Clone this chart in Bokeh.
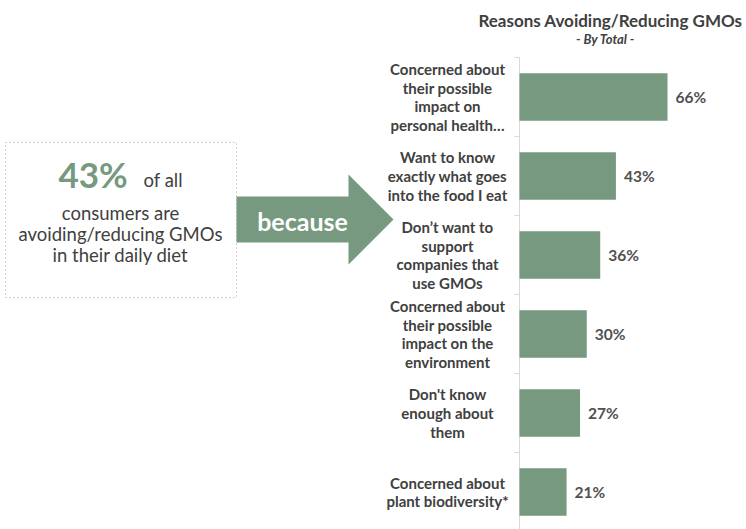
from bokeh.plotting import figure
from bokeh.models import Range1d, ColumnDataSource
from bokeh.core.properties import value
from bokeh.embed import file_html
from bokeh.resources import INLINE

categories = [
    "Concerned about\ntheir possible\nimpact on\npersonal health…",
    "Want to know\nexactly what goes\ninto the food I eat",
    "Don’t want to\nsupport\ncompanies that\nuse GMOs",
    "Concerned about\ntheir possible\nimpact on the\nenvironment",
    "Don't know\nenough about\nthem",
    "Concerned about\nplant biodiversity*",
]
values = [66, 43, 36, 30, 27, 21]
value_labels = ["66%", "43%", "36%", "30%", "27%", "21%"]

title = "Reasons Avoiding/Reducing GMOs"
subtitle = "- By Total -"
headline_pct = "43%"
headline_rest = "of all"
body_lines = ["consumers are", "avoiding/reducing GMOs", "in their daily diet"]
arrow_text = "because"

GREEN = "#76997f"
DARK = "#404040"
FONT = "Lato"

W, H = 746, 529
AXIS_PX = 519
PX_PER_PCT = 148 / 66.0
BAND = 79.0
TOP_PX = 57.0

x_start = -AXIS_PX / PX_PER_PCT
x_end = (W - AXIS_PX) / PX_PER_PCT
y_top = -0.5 - TOP_PX / BAND
y_bottom = y_top + H / BAND

p = figure(width=W, height=H, output_backend="svg", toolbar_location=None,
           x_range=Range1d(x_start, x_end), y_range=Range1d(y_bottom, y_top),
           min_border=0, min_border_left=0, min_border_right=0,
           min_border_top=0, min_border_bottom=0)
p.axis.visible = False
p.grid.visible = False
p.outline_line_color = None
p.background_fill_color = "white"
p.border_fill_color = "white"

p.extra_x_ranges = {"px": Range1d(0, W)}
p.extra_y_ranges = {"py": Range1d(H, 0)}

n = len(categories)
idx = list(range(n))
src = ColumnDataSource(dict(y=idx, v=values, lab=value_labels, cat=categories,
                            cx=[-32.1] * n))

# axis line and boundary ticks
p.segment(x0=[0], y0=[-0.5], x1=[0], y1=[n - 0.5], line_color="#d9d9d9", line_width=1)
bounds = [i - 0.5 for i in range(n + 1)]
p.segment(x0=[-2.3] * len(bounds), y0=bounds, x1=[0] * len(bounds), y1=bounds,
          line_color="#d9d9d9", line_width=1)

# bars
p.hbar(y="y", left=0, right="v", height=0.6, source=src, fill_color=GREEN,
       line_color=None)

# value labels
p.text(x="v", y="y", text="lab", source=src, x_offset=8,
       text_font=value(FONT), text_font_style="bold", text_font_size="15.5px",
       text_color="#505050", text_align="left", text_baseline="middle")

# category labels
p.text(x="cx", y="y", text="cat", source=src,
       text_font=value(FONT), text_font_style="bold", text_font_size="15px",
       text_color=DARK, text_align="center", text_baseline="middle",
       text_line_height=1.03)

# title
p.text(x=[610], y=[20], text=[title], x_range_name="px", y_range_name="py",
       text_font=value(FONT), text_font_style="bold", text_font_size="17px",
       text_color=DARK, text_align="center", text_baseline="middle")
p.text(x=[605], y=[38], text=[subtitle], x_range_name="px", y_range_name="py",
       text_font=value(FONT), text_font_style="bold italic", text_font_size="13px",
       text_color=DARK, text_align="center", text_baseline="middle")

# left dotted box
p.quad(left=[5], right=[236], top=[142], bottom=[297], x_range_name="px",
       y_range_name="py", fill_color=None, line_color="#a0a0a0",
       line_dash="1 3", line_width=1)

p.text(x=[58], y=[173], text=[headline_pct], x_range_name="px", y_range_name="py",
       text_font=value(FONT), text_font_style="bold", text_font_size="35px",
       text_color=GREEN, text_align="left", text_baseline="middle")
p.text(x=[143], y=[179], text=[headline_rest], x_range_name="px", y_range_name="py",
       text_font=value(FONT), text_font_size="18.5px",
       text_color=DARK, text_align="left", text_baseline="middle")
p.text(x=[120] * 3, y=[212, 233, 254], text=body_lines, x_range_name="px",
       y_range_name="py", text_font=value(FONT), text_font_size="18.5px",
       text_color=DARK, text_align="center", text_baseline="middle")

# arrow
p.patch(x=[236, 348, 348, 393, 348, 348, 236],
        y=[196, 196, 174, 219, 264, 242, 242],
        x_range_name="px", y_range_name="py", fill_color=GREEN, line_color=None)
p.text(x=[302], y=[220], text=[arrow_text], x_range_name="px", y_range_name="py",
       text_font=value(FONT), text_font_style="bold", text_font_size="25px",
       text_color="white", text_align="center", text_baseline="middle")

open("out.html", "w").write(file_html(p, INLINE))
